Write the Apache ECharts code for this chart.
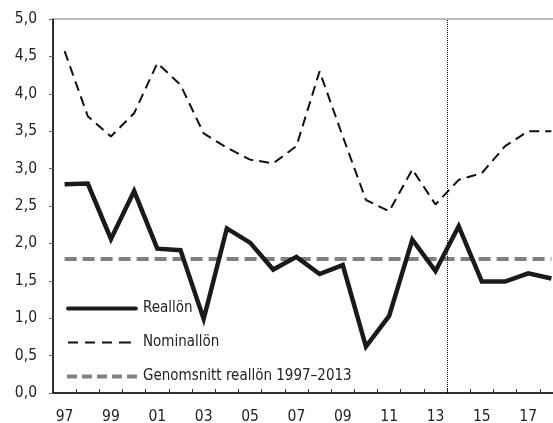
<!DOCTYPE html>
<html lang="sv">
<head>
  <meta charset="UTF-8">
  <title>Reallön och nominallön</title>
  <script src="https://cdn.jsdelivr.net/npm/echarts/dist/echarts.min.js"></script>
  <style>
    html, body { margin: 0; padding: 0; background: #fff; }
    #chart { width: 553px; height: 423px; }
  </style>
</head>
<body>
<div id="chart"></div>
<script>
  // år 1997-2018
  var years = ['97','98','99','00','01','02','03','04','05','06','07','08','09','10','11','12','13','14','15','16','17','18'];
  var realLon = [2.79, 2.80, 2.06, 2.70, 1.93, 1.91, 0.99, 2.20, 2.01, 1.65, 1.82, 1.59, 1.71, 0.62, 1.03, 2.05, 1.63, 2.23, 1.49, 1.49, 1.60, 1.53];
  var nominalLon = [4.57, 3.70, 3.43, 3.74, 4.41, 4.12, 3.47, 3.28, 3.12, 3.07, 3.30, 4.30, 3.43, 2.58, 2.43, 2.99, 2.52, 2.85, 2.94, 3.30, 3.50, 3.50];
  var snittReal = [1.79, 1.79, 1.79, 1.79, 1.79, 1.79, 1.79, 1.79, 1.79, 1.79, 1.79, 1.79, 1.79, 1.79, 1.79, 1.79, 1.79, 1.79, 1.79, 1.79, 1.79, 1.79];
  var splitAt = 17; // gräns mellan 2013 och 2014

  var font = "'Liberation Sans Narrow', 'DejaVu Sans Condensed', sans-serif";

  // legend-ikoner: små hörnpunkter håller ikonens mått 72x14
  var corners = 'M0,0h0.01v0.01h-0.01Z M72,14h0.01v0.01h-0.01Z ';
  var iconReal = 'path://' + corners + 'M2,5H70A2,2,0,0,1,70,9H2A2,2,0,0,1,2,5Z';
  var iconNominal = 'path://' + corners + 'M2,6h10v2h-10Z M19,6h10v2h-10Z M36,6h10v2h-10Z M53,6h12v2h-12Z';
  var iconSnitt = 'path://' + corners + 'M1,5h10v4h-10Z M16,5h10v4h-10Z M31,5h10v4h-10Z M46,5h10v4h-10Z M61,5h10v4h-10Z';

  var chart = echarts.init(document.getElementById('chart'));

  var option = {
    animation: false,
    grid: {
      left: 53, top: 19, bottom: 30, width: 510,
      outerBoundsMode: 'none',
      containLabel: false,
      show: true, borderColor: '#777', borderWidth: 1
    },
    legend: {
      orient: 'vertical',
      left: 61,
      top: 296,
      itemWidth: 72,
      itemHeight: 14,
      itemGap: 19,
      textStyle: { fontFamily: font, fontSize: 15, color: '#222' },
      data: [
        { name: 'Reallön', icon: iconReal },
        { name: 'Nominallön', icon: iconNominal },
        { name: 'Genomsnitt reallön 1997–2013', icon: iconSnitt }
      ]
    },
    xAxis: [{
      type: 'category',
      data: years,
      boundaryGap: true,
      axisLine: { lineStyle: { color: '#000', width: 1.5 } },
      axisTick: { interval: 0, length: 4, lineStyle: { color: '#333' } },
      axisLabel: { interval: 1, margin: 16, fontFamily: font, fontSize: 15.5, color: '#222' }
    }, {
      type: 'value',
      position: 'bottom',
      min: 0, max: 22, interval: 1,
      axisLine: { show: false },
      axisTick: { inside: true, length: 4, lineStyle: { color: '#333' } },
      axisLabel: { show: false },
      splitLine: { show: false }
    }],
    yAxis: {
      type: 'value',
      min: 0, max: 5, interval: 0.5,
      axisLine: { show: true, lineStyle: { color: '#000', width: 1.5 } },
      axisTick: { show: true, length: 4, lineStyle: { color: '#666' } },
      splitLine: { show: false },
      axisLabel: {
        margin: 16, fontFamily: font, fontSize: 15.5, color: '#222',
        formatter: function (v) { return v.toFixed(1).replace('.', ','); }
      }
    },
    series: [{
      name: 'Genomsnitt reallön 1997–2013',
      type: 'line',
      data: snittReal,
      symbol: 'none',
      lineStyle: { color: '#808080', width: 4, type: [12, 6] },
      itemStyle: { color: '#808080' }
    }, {
      name: 'Nominallön',
      type: 'line',
      data: nominalLon,
      symbol: 'none',
      lineStyle: { color: '#111', width: 2, type: [10, 6] },
      itemStyle: { color: '#111' }
    }, {
      name: 'Reallön',
      type: 'line',
      data: realLon,
      symbol: 'none',
      lineStyle: { color: '#1a1a1a', width: 4.5, join: 'miter' },
      itemStyle: { color: '#1a1a1a' }
    }, {
      name: 'split',
      type: 'line',
      xAxisIndex: 1,
      data: [],
      markLine: {
        silent: true,
        symbol: 'none',
        label: { show: false },
        lineStyle: { color: '#000', width: 1, type: 'dotted' },
        data: [{ xAxis: splitAt }]
      }
    }]
  };

  chart.setOption(option);
</script>
</body>
</html>
